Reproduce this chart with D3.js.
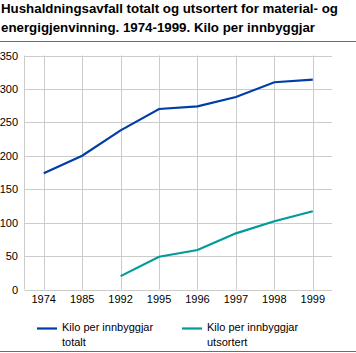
<!DOCTYPE html>
<html>
<head>
<meta charset="utf-8">
<script src="https://cdn.jsdelivr.net/npm/d3@7"></script>
<style>
  body{margin:0;background:#fff;font-family:"Liberation Sans",Arial,sans-serif;}
  #chart{width:356px;height:353px;}
</style>
</head>
<body>
<div id="chart"></div>
<script>
const years=["1974","1985","1992","1995","1996","1997","1998","1999"];
const totalt=[174,200,238,270,274,288,310,314];
const utsortert=[null,null,20,49,59,84,102,117];
const yTicks=[0,50,100,150,200,250,300,350];
const seriesNames=["Kilo per innbyggjar totalt","Kilo per innbyggjar utsortert"];
const titleLines=["Hushaldningsavfall totalt og utsortert for material- og","energigjenvinning. 1974-1999. Kilo per innbyggjar"];

(function(){
  const W=356,H=353,teal="#009a9a",blue="#003da5",grid="#cccccc";
  const svg=d3.select("#chart").append("svg").attr("width",W).attr("height",H);
  svg.selectAll(".title").data(titleLines).join("text")
    .attr("x",1).attr("y",(d,i)=>13+i*18.5)
    .attr("font-size",13.3).attr("font-weight",700).attr("fill","#000").text(d=>d);
  svg.append("line").attr("x1",0).attr("x2",W).attr("y1",41.5).attr("y2",41.5).attr("stroke",teal).attr("stroke-width",1.2);
  svg.append("line").attr("x1",0).attr("x2",W).attr("y1",351.5).attr("y2",351.5).attr("stroke",teal).attr("stroke-width",1.2);

  const x=d3.scalePoint().domain(years).range([24.5,332]).padding(.5);
  const y=d3.scaleLinear().domain([0,350]).range([289.5,55.5]);

  const g=svg.append("g");
  g.selectAll(".hg").data(yTicks).join("line")
    .attr("x1",24.5).attr("x2",332).attr("y1",d=>Math.round(y(d))+.5).attr("y2",d=>Math.round(y(d))+.5)
    .attr("stroke",grid);
  g.selectAll(".vg").data(years).join("line")
    .attr("x1",d=>Math.round(x(d))+.5).attr("x2",d=>Math.round(x(d))+.5).attr("y1",55.5).attr("y2",289.5)
    .attr("stroke",grid);
  g.append("line").attr("x1",24.5).attr("x2",24.5).attr("y1",55.5).attr("y2",289.5).attr("stroke",grid);

  g.selectAll(".yl").data(yTicks).join("text")
    .attr("x",18).attr("y",d=>y(d)+4).attr("text-anchor","end")
    .attr("font-size",11).attr("fill","#000").text(d=>d);
  g.selectAll(".xl").data(years).join("text")
    .attr("x",d=>x(d)).attr("y",303).attr("text-anchor","middle")
    .attr("font-size",11).attr("fill","#000").text(d=>d);

  const line=d3.line().defined(d=>d[1]!=null).x(d=>x(d[0])).y(d=>y(d[1]));
  [[totalt,blue],[utsortert,teal]].forEach(([vals,c])=>{
    svg.append("path").datum(years.map((yr,i)=>[yr,vals[i]]))
      .attr("d",line).attr("fill","none").attr("stroke",c).attr("stroke-width",2.2);
  });

  const leg=[{x:37,c:blue,t:["Kilo per innbyggjar","totalt"]},{x:182,c:teal,t:["Kilo per innbyggjar","utsortert"]}];
  leg.forEach(l=>{
    svg.append("line").attr("x1",l.x).attr("x2",l.x+20).attr("y1",328.5).attr("y2",328.5).attr("stroke",l.c).attr("stroke-width",2.2);
    svg.append("text").attr("x",l.x+25).attr("y",331).attr("font-size",11).text(l.t[0]);
    svg.append("text").attr("x",l.x+25).attr("y",346).attr("font-size",11).text(l.t[1]);
  });
})();
</script>
</body>
</html>
